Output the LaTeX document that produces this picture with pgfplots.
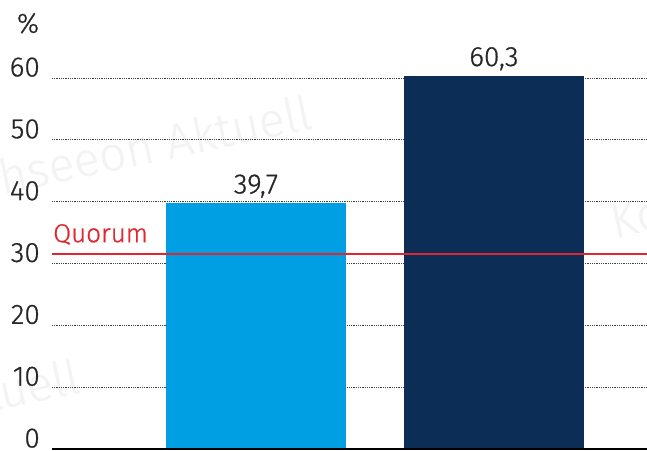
\documentclass[border=0pt]{standalone}
\usepackage{pgfplots}
\pgfplotsset{compat=1.18}
\usepackage{fontspec}
\setmainfont{Fira Sans}[UprightFont=* Light, UprightFeatures={FakeBold=0.8}]
\definecolor{lblue}{HTML}{009FE3}
\definecolor{navy}{HTML}{0C2D55}
\definecolor{qred}{HTML}{E0262E}
\definecolor{wm}{HTML}{F3F3F3}
\begin{document}
\fontsize{28}{32}\selectfont
\begin{tikzpicture}
\path[use as bounding box] (0,0) rectangle (647pt,450pt);
% watermark
\begin{scope}[every node/.style={text=wm, font=\fontsize{48}{52}\selectfont, rotate=12, inner sep=0pt}]
\node[anchor=base east] at (314pt,322pt) {Kohseeon Aktuell};
\node[anchor=base east] at (82pt,58pt) {Kohseeon Aktuell};
\node[anchor=base west] at (614pt,212pt) {Kohseeon Aktuell};
\end{scope}
\begin{axis}[
  at={(52pt,1pt)}, anchor=south west,
  scale only axis, width=595pt, height=449pt,
  xmin=-0.857, xmax=1.643, ymin=0, ymax=72.6,
  axis line style={draw=none},
  xtick=\empty,
  ytick={0,10,20,30,40,50,60},
  major tick length=0pt,
  ymajorgrids,
  grid style={black!75, line width=0.7pt, dash pattern=on 0.9pt off 0.9pt},
  /pgf/number format/assume math mode=true,
  yticklabel style={anchor=base east, inner sep=0pt, xshift=-12pt, yshift=1.5pt, text=black!85},
  clip=false,
  nodes near coords={\pgfmathprintnumber[fixed,precision=1,use comma]{\pgfplotspointmeta}},
  every node near coord/.append style={anchor=base, inner sep=0pt, yshift=10pt, text=black!85},
]
\addplot[ybar, bar width=0.756, bar shift=0pt, fill=lblue, draw=none] coordinates {(0,39.7)};
\addplot[ybar, bar width=0.756, bar shift=0pt, fill=navy, draw=none] coordinates {(1,60.3)};
\addplot[qred, line width=1.5pt, nodes near coords={}] coordinates {(-0.857,31.5) (1.643,31.5)};
\draw[black, line width=1.5pt] (axis cs:-0.857,0) -- (axis cs:1.643,0);
\node[qred, anchor=base west, inner sep=0pt, font=\fontsize{26}{30}\selectfont] at ([xshift=1pt, yshift=12pt]axis cs:-0.857,31.5) {Quorum};
\node[anchor=base, inner sep=0pt, text=black!85] at ([xshift=-24pt]axis cs:-0.857,67.3) {\%};
\end{axis}
\end{tikzpicture}
\end{document}
